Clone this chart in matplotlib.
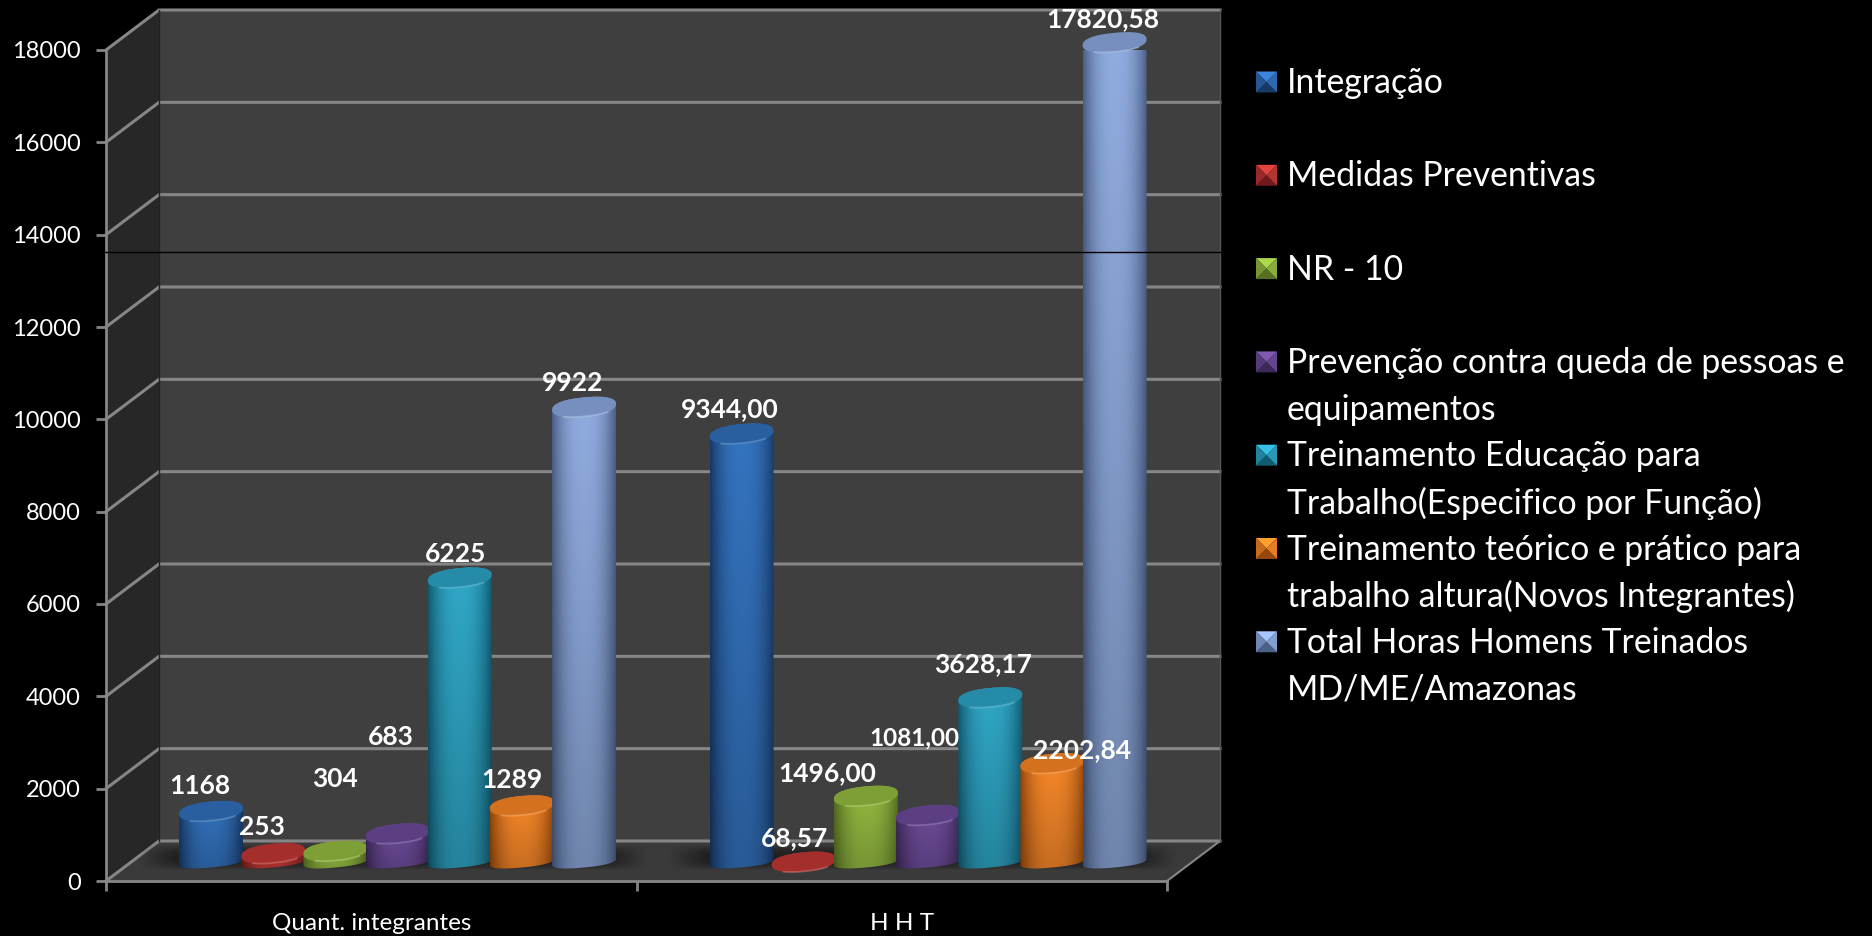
import numpy as np
import matplotlib
matplotlib.use("Agg")
import matplotlib.pyplot as plt
from matplotlib.patches import Polygon
from matplotlib.lines import Line2D

plt.rcParams['font.family'] = ['Lato', 'DejaVu Sans']

# data
categorias = ["Quant. integrantes", "H H T"]
integracao = [1168, 9344.00]
medidas = [253, 68.57]
nr10 = [304, 1496.00]
prevencao = [683, 1081.00]
treinamento_edu = [6225, 3628.17]
treinamento_alt = [1289, 2202.84]
total = [9922, 17820.58]
series = [integracao, medidas, nr10, prevencao, treinamento_edu, treinamento_alt, total]

rotulos_q = ["1168", "253", "304", "683", "6225", "1289", "9922"]
rotulos_h = ["9344,00", "68,57", "1496,00", "1081,00", "3628,17", "2202,84", "17820,58"]

legenda = ["Integração", "Medidas Preventivas", "NR - 10",
           "Prevenção contra queda de pessoas e\nequipamentos",
           "Treinamento Educação para\nTrabalho(Especifico por Função)",
           "Treinamento teórico e prático para\ntrabalho altura(Novos Integrantes)",
           "Total Horas Homens Treinados\nMD/ME/Amazonas"]

# (escuro, claro) de cada serie
cores = [("#183a68", "#3474c0"), ("#6e1a1a", "#c43a37"), ("#566f22", "#96bc42"),
         ("#3d2958", "#6f4d9c"), ("#125c72", "#30a8c8"), ("#96480c", "#fa8a2a"),
         ("#4c6088", "#90acdf")]

# deslocamento dos rotulos em pixels (os rotulos estao fora do lugar no original)
desloc_q = [(-11, 25), (-11, 26), (0, 72), (-7, 96), (-4, 24), (-10, 25), (-11, 24)]
desloc_h = [(-12, 24), (-9, 24), (-39, 23), (-14, 77), (-7, 33), (30, 13), (-12, 23)]

W, H = 1872, 936
fig = plt.figure(figsize=(W / 100, H / 100), dpi=100, facecolor="black")
ax = fig.add_axes([106 / W, (H - 881) / H, (1167 - 106) / W, 831 / H])
ax.set_facecolor("none")
ax.set_xlim(0, 2)
ax.set_ylim(0, 18000)
ax.autoscale(False)

PXX = 2 / 1061.0       # unidades x por pixel
PXY = 18000 / 831.0    # unidades y por pixel
DX = 53 * PXX          # profundidade 3d
DY = 40 * PXY
BASE = 16 * PXY
GRID = "#868686"

# paredes
ax.add_patch(Polygon([(DX, DY), (2 + DX, DY), (2 + DX, 18000 + DY), (DX, 18000 + DY)],
                     fc="#3f3f3f", ec="none", zorder=0, clip_on=False))
ax.add_patch(Polygon([(0, 0), (DX, DY), (DX, 18000 + DY), (0, 18000)],
                     fc="#272727", ec="none", zorder=0, clip_on=False))
ax.add_patch(Polygon([(0, 0), (2, 0), (2 + DX, DY), (DX, DY)],
                     fc="#3a3a3a", ec="none", zorder=0, clip_on=False))

for v in np.arange(0, 18001, 2000):
    ax.plot([0, DX, 2 + DX], [v, v + DY, v + DY], color=GRID, lw=2.2, zorder=1,
            clip_on=False, solid_joinstyle="miter")
ax.plot([2, 2 + DX], [0, DY], color=GRID, lw=1.5, zorder=1, clip_on=False)
ax.plot([DX, DX], [DY, 18000 + DY], color="#222222", lw=1, zorder=1, clip_on=False)
ax.plot([2 + DX, 2 + DX], [DY, 18000 + DY], color="#555555", lw=1, zorder=1, clip_on=False)

# sombra no chao
sy = np.linspace(0, 1, 40)
sx = np.linspace(0, 1, 300)
a = np.sin(np.pi * sy)[:, None] ** 0.7 * np.clip(np.minimum(sx, 1 - sx) * 14, 0, 1)[None, :]
somb = np.zeros((40, 300, 4))
somb[..., 3] = a * 0.45
for g in range(2):
    ax.imshow(somb, extent=(g + 0.06, g + 1.02, BASE - 5 * PXY, BASE + 20 * PXY), aspect="auto",
              zorder=2, interpolation="bilinear", clip_on=False)


def rgb(c):
    return np.array(matplotlib.colors.to_rgb(c))


def arco(t):
    # seno e cosseno um pouco "quadrados", a tampa do original e mais cheia nos lados
    c = np.cos(t)
    s = np.sin(t)
    return np.sign(c) * np.abs(c) ** 0.85, np.sign(s) * np.abs(s) ** 0.85


def cilindro(cx, v, escuro, claro, z):
    w = 32 * PXX
    h = 9.5 * PXY
    k = 3 * PXY
    t = np.linspace(0, 2 * np.pi, 120)
    y0 = BASE + 3 * PXY
    y1 = BASE + v
    # corpo, a base fica mais achatada que a tampa
    tb = np.linspace(np.pi, 2 * np.pi, 40)
    cb, sb = arco(tb)
    xb = cx + w * cb
    yb = y0 + 5.5 * PXY * sb + 3 * PXY * cb
    tt = np.linspace(0, np.pi, 40)
    ct, st = arco(tt)
    xt = cx + w * ct
    yt = y1 + h * st + k * ct
    corpo = Polygon(np.r_[np.c_[xb, yb], np.c_[xt, yt]], fc="none", ec="none", zorder=z, clip_on=False)
    ax.add_patch(corpo)
    u = np.linspace(-1, 1, 64)
    f = (1 - np.abs(u) ** 2.4)[None, :, None]
    fy = np.linspace(1.0, 0.78, 32)[:, None, None]
    img = (rgb(escuro) * (1 - f) + rgb(claro) * f) * fy
    im = ax.imshow(np.clip(img, 0, 1), extent=(cx - w, cx + w, y0 - h - k, y1 + h + k), aspect="auto",
                   zorder=z, interpolation="bilinear")
    im.set_clip_path(corpo)
    # tampa
    c, s = arco(t)
    xc = cx + w * c
    yc = y1 + h * s + k * c
    meio = rgb(escuro) * 0.38 + rgb(claro) * 0.62
    ax.add_patch(Polygon(np.c_[xc, yc], fc=meio, ec="none", zorder=z + 0.1, clip_on=False))
    cl, sl = arco(np.linspace(1.3 * np.pi, 1.75 * np.pi, 30))
    xl = cx + w * cl
    yl = y1 + h * sl + k * cl
    luz = np.clip(rgb(claro) * 0.7 + 0.3, 0, 1)
    ax.plot(xl, yl, color=luz, lw=1.3, alpha=0.55, zorder=z + 0.2, clip_on=False,
            solid_capstyle="round")


centros = 0.198 + 0.1172 * np.arange(7)
for g in range(2):
    for i, s in enumerate(series):
        cilindro(g + centros[i], s[g], cores[i][0], cores[i][1], 3 + i)
for g, (rot, des) in enumerate([(rotulos_q, desloc_q), (rotulos_h, desloc_h)]):
    for i, s in enumerate(series):
        tam = 17.5 if rot[i] == "1081,00" else 19
        ax.annotate(rot[i], xy=(g + centros[i], BASE + s[g]), xytext=des[i], textcoords="offset pixels",
                    color="white", fontweight="bold", fontsize=tam, ha="center", va="center",
                    zorder=20, annotation_clip=False)

# eixos
for lado in ["top", "right"]:
    ax.spines[lado].set_visible(False)
for lado in ["left", "bottom"]:
    ax.spines[lado].set_color(GRID)
    ax.spines[lado].set_linewidth(2)
    ax.spines[lado].set_zorder(2.5)
ax.set_yticks(np.arange(0, 18001, 2000))
ax.tick_params(axis="y", colors=GRID, labelcolor="white", labelsize=17, length=7, width=2, pad=11)
for lab in ax.get_yticklabels():
    lab.set_verticalalignment("center_baseline")
ax.set_xticks([0, 1, 2])
ax.set_xticklabels([])
ax.set_xticks([0.5, 1.5], minor=True)
ax.set_xticklabels(categorias, minor=True)
ax.tick_params(axis="x", which="major", colors=GRID, length=7, width=2)
ax.tick_params(axis="x", which="minor", length=0, labelcolor="white", labelsize=17.5, pad=23)

# linha preta fina que atravessa o slide
fig.add_artist(Line2D([0, 1], [(H - 252) / H] * 2, color="black", lw=1, zorder=30))

# legenda feita a mao, cada entrada com quadradinho em piramide
lax = fig.add_axes([0, 0, 1, 1], facecolor="none")
lax.set_xlim(0, W)
lax.set_ylim(H, 0)
lax.axis("off")
for i, txt in enumerate(legenda):
    y = 82 + i * 93.3
    x0, x1 = 1256, 1277
    y0, y1 = y - 10.5, y + 10.5
    xm, ym = (x0 + x1) / 2, y
    esc, cla = rgb(cores[i][0]), rgb(cores[i][1])
    lax.add_patch(Polygon([(x0, y0), (x1, y0), (xm, ym)], fc=np.clip(cla * 1.15, 0, 1), ec="none"))
    lax.add_patch(Polygon([(x0, y1), (x1, y1), (xm, ym)], fc=esc, ec="none"))
    lax.add_patch(Polygon([(x0, y0), (x0, y1), (xm, ym)], fc=(cla + esc) / 2, ec="none"))
    lax.add_patch(Polygon([(x1, y0), (x1, y1), (xm, ym)], fc=(cla * 0.8 + esc * 0.2), ec="none"))
    lax.text(1287, y + 1, txt.split("\n")[0], color="white", fontsize=24.3, va="center", ha="left")
    if "\n" in txt:
        lax.text(1287, y + 48, txt.split("\n")[1], color="white", fontsize=24.3, va="center", ha="left")

fig.savefig("out.png", dpi=100, facecolor="black")
